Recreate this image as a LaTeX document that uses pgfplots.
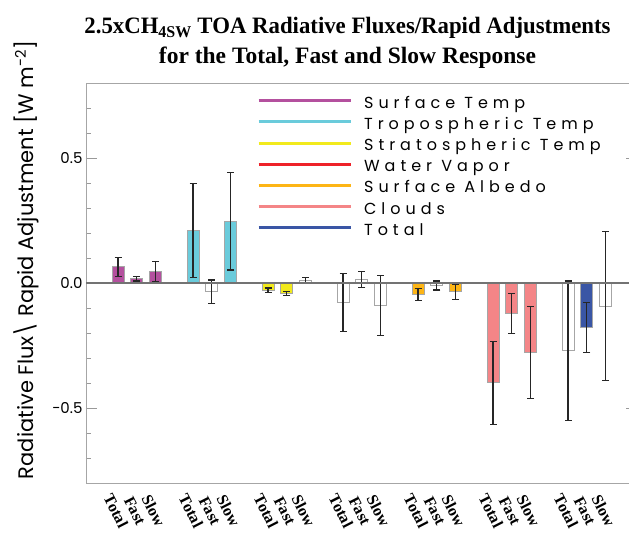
\documentclass[border=0pt]{standalone}
\usepackage{fontspec}
\usepackage{pgfplots}
\pgfplotsset{compat=1.18}
\setmainfont{Liberation Serif}
\newfontfamily\pop[LetterSpace=31]{Poppins}
\newfontfamily\popn{Poppins}

\definecolor{cmag}{HTML}{B4509E}
\definecolor{ccyan}{HTML}{6ACBDB}
\definecolor{cyel}{HTML}{F2EA1C}
\definecolor{cwvap}{HTML}{EE2229}
\definecolor{corange}{HTML}{FDB515}
\definecolor{cpink}{HTML}{F48587}
\definecolor{cblue}{HTML}{3A56A5}

\pgfplotsset{
  rabar/.style={ybar, bar width=12pt, bar shift=0pt, forget plot,
    draw=gray!70, line width=0.8pt,
    error bars/y dir=both, error bars/y explicit,
    error bars/error bar style={line width=1.3pt, black!85},
    error bars/error mark options={rotate=90, line width=1.3pt, mark size=3.5pt, black!85}},
}

\begin{document}
\begin{tikzpicture}
\begin{axis}[
    name=ax, at={(0,0)}, anchor=south west,
    scale only axis, width=551pt, height=400pt,
    xmin=-1.707, xmax=27.68, ymin=-0.8, ymax=0.8,
    axis line style={gray!70, line width=0.8pt},
    xtick={0,1,2,4,5,6,8,9,10,12,13,14,16,17,18,20,21,22,24,25,26},
    xticklabels={Total,Fast,Slow,Total,Fast,Slow,Total,Fast,Slow,Total,Fast,Slow,Total,Fast,Slow,Total,Fast,Slow,Total,Fast,Slow},
    x tick style={draw=none},
    xticklabel style={font=\bfseries\fontsize{16}{18}\selectfont, inner sep=0pt,
      xshift=-2pt, yshift=-28pt, rotate=-63, anchor=center},
    ytick={-0.5,0,0.5}, yticklabels={−0.5,0.0,0.5},
    minor ytick={-0.7,-0.6,-0.4,-0.3,-0.2,-0.1,0.1,0.2,0.3,0.4,0.6,0.7},
    tick align=inside, major tick length=11pt, minor tick length=5pt,
    y tick style={gray!80, line width=0.8pt},
    yticklabel style={font=\popn\fontsize{15}{18}\selectfont},
    legend style={draw=none, fill=none, at={(rel axis cs:0.3103,1)}, anchor=north west,
      yshift=-11pt, inner sep=0pt, row sep=0pt, column sep=12pt,
      font=\pop\fontsize{16}{19}\selectfont,
      nodes={inner sep=0pt, text height=14pt, text depth=7.17pt}},
    legend cell align=left,
    legend image code/.code={\draw[#1] (0pt,4pt) -- (92pt,4pt);},
]
% Surface Temp
\addplot[rabar, fill=cmag] coordinates {
  (0,0.065) +- (0,0.038) (1,0.017) +- (0,0.009) (2,0.046) +- (0,0.039)};
% Tropospheric Temp
\addplot[rabar, fill=ccyan] coordinates {
  (4,0.211) +- (0,0.188) (6,0.247) +- (0,0.195)};
\addplot[rabar, fill=white] coordinates {(5,-0.035) +- (0,0.047)};
% Stratospheric Temp
\addplot[rabar, fill=cyel] coordinates {
  (8,-0.029) +- (0,0.009) (9,-0.042) +- (0,0.0085)};
\addplot[rabar, fill=white] coordinates {(10,0.011) +- (0,0.012)};
% Water Vapor
\addplot[rabar, fill=white] coordinates {
  (12,-0.078) +- (0,0.116) (13,0.014) +- (0,0.033) (14,-0.090) +- (0,0.120)};
% Surface Albedo
\addplot[rabar, fill=corange] coordinates {
  (16,-0.046) +- (0,0.025) (18,-0.035) +- (0,0.030)};
\addplot[rabar, fill=white] coordinates {(17,-0.010) +- (0,0.018)};
% Clouds
\addplot[rabar, fill=cpink] coordinates {
  (20,-0.399) +- (0,0.166) (21,-0.123) +- (0,0.080) (22,-0.277) +- (0,0.184)};
% Total
\addplot[rabar, fill=cblue] coordinates {(25,-0.178) +- (0,0.101)};
\addplot[rabar, fill=white] coordinates {
  (24,-0.271) +- (0,0.279) (26,-0.093) +- (0,0.298)};

\draw[black!55, line width=1.3pt] (axis cs:-1.707,0) -- (axis cs:27.68,0);

\addlegendimage{line width=3pt, color=cmag}
\addlegendentry{Surface Temp}
\addlegendimage{line width=3pt, color=ccyan}
\addlegendentry{Tropospheric Temp}
\addlegendimage{line width=3pt, color=cyel}
\addlegendentry{Stratospheric Temp}
\addlegendimage{line width=3pt, color=cwvap}
\addlegendentry{Water Vapor}
\addlegendimage{line width=3pt, color=corange}
\addlegendentry{Surface Albedo}
\addlegendimage{line width=3pt, color=cpink}
\addlegendentry{Clouds}
\addlegendimage{line width=3pt, color=cblue}
\addlegendentry{Total}
\end{axis}

\node[anchor=base, font=\bfseries\fontsize{23.5}{26}\selectfont] at ([xshift=261.5pt, yshift=49.7pt]ax.north west)
  {\scalebox{0.97}[1]{2.5xCH\textsubscript{4SW} TOA Radiative Fluxes/Rapid Adjustments}};
\node[anchor=base, font=\bfseries\fontsize{23.5}{26}\selectfont] at ([xshift=261.5pt, yshift=19pt]ax.north west)
  {for the Total, Fast and Slow Response};
\node[anchor=base, rotate=90, font=\popn\fontsize{21}{25}\selectfont] at ([xshift=-52.5pt, yshift=23pt]ax.west)
  {Radiative Flux\textbackslash{} Rapid Adjustment [W m\textsuperscript{-2}]};

\pgfresetboundingbox
\path[use as bounding box] ([xshift=-86pt, yshift=-58pt]ax.south west) rectangle ([xshift=543pt, yshift=83pt]ax.north west);
\end{tikzpicture}
\end{document}
